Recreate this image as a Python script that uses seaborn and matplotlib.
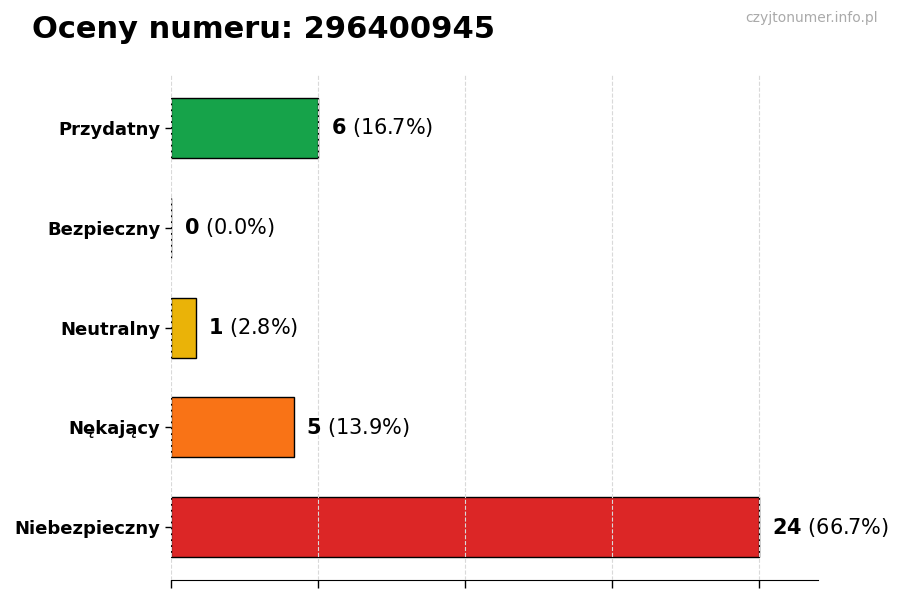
import pandas as pd
import matplotlib
matplotlib.use("Agg")
import matplotlib.pyplot as plt
import seaborn as sns

# chart data
categories = ["Przydatny", "Bezpieczny", "Neutralny", "Nękający", "Niebezpieczny"]
counts = [6, 0, 1, 5, 24]
colors = ["#16a34a", "#2563eb", "#eab308", "#f97316", "#dc2626"]
number = "296400945"

total = sum(counts)
df = pd.DataFrame({"kategoria": categories, "liczba": counts})

sns.set_style("white", {"xtick.bottom": True, "ytick.left": True,
                        "text.color": "black", "axes.labelcolor": "black",
                        "xtick.color": "black", "ytick.color": "black"})
plt.rcParams["font.family"] = ["DejaVu Sans"]

fig = plt.figure(figsize=(9, 6), dpi=100)
ax = fig.add_axes([0.19, 0.033, 0.719, 0.842])

sns.barplot(data=df, y="kategoria", x="liczba", hue="kategoria",
            palette=colors, saturation=1, orient="h", width=0.6,
            edgecolor="black", linewidth=1, legend=False, ax=ax)

ax.set_xlim(0, max(counts) * 1.1)
ax.set_ylim(len(categories) - 1 + 0.53, -0.53)
ax.set_xticks(range(0, max(counts) + 1, 6))
ax.set_xticklabels([])
ax.tick_params(axis="x", length=6, width=1, color="black")
ax.tick_params(axis="y", length=4, width=1, color="black", labelsize=13,
               labelcolor="black")
for lbl in ax.get_yticklabels():
    lbl.set_fontweight("bold")
ax.set_xlabel("")
ax.set_ylabel("")

ax.set_axisbelow(False)
ax.grid(axis="x", linestyle="--", color="#d9d9d9", linewidth=0.8)
ax.grid(axis="y", visible=False)

for s in ["top", "right", "left"]:
    ax.spines[s].set_visible(False)
ax.spines["bottom"].set_color("black")

# value labels
for i, c in enumerate(counts):
    pct = c / total * 100
    ax.annotate(r"$\bf{" + str(c) + "}$" + f" ({pct:.1f}%)",
                xy=(c, i), xytext=(9, 0), textcoords="offset points",
                va="center", ha="left", fontsize=15, color="black")

fig.text(0.035, 0.95, f"Oceny numeru: {number}", fontsize=22,
         fontweight="bold", ha="left", va="center", color="black")
fig.text(0.975, 0.97, "czyjtonumer.info.pl", fontsize=10,
         color="#aaaaaa", ha="right", va="center")

fig.savefig("out.png", dpi=100)
